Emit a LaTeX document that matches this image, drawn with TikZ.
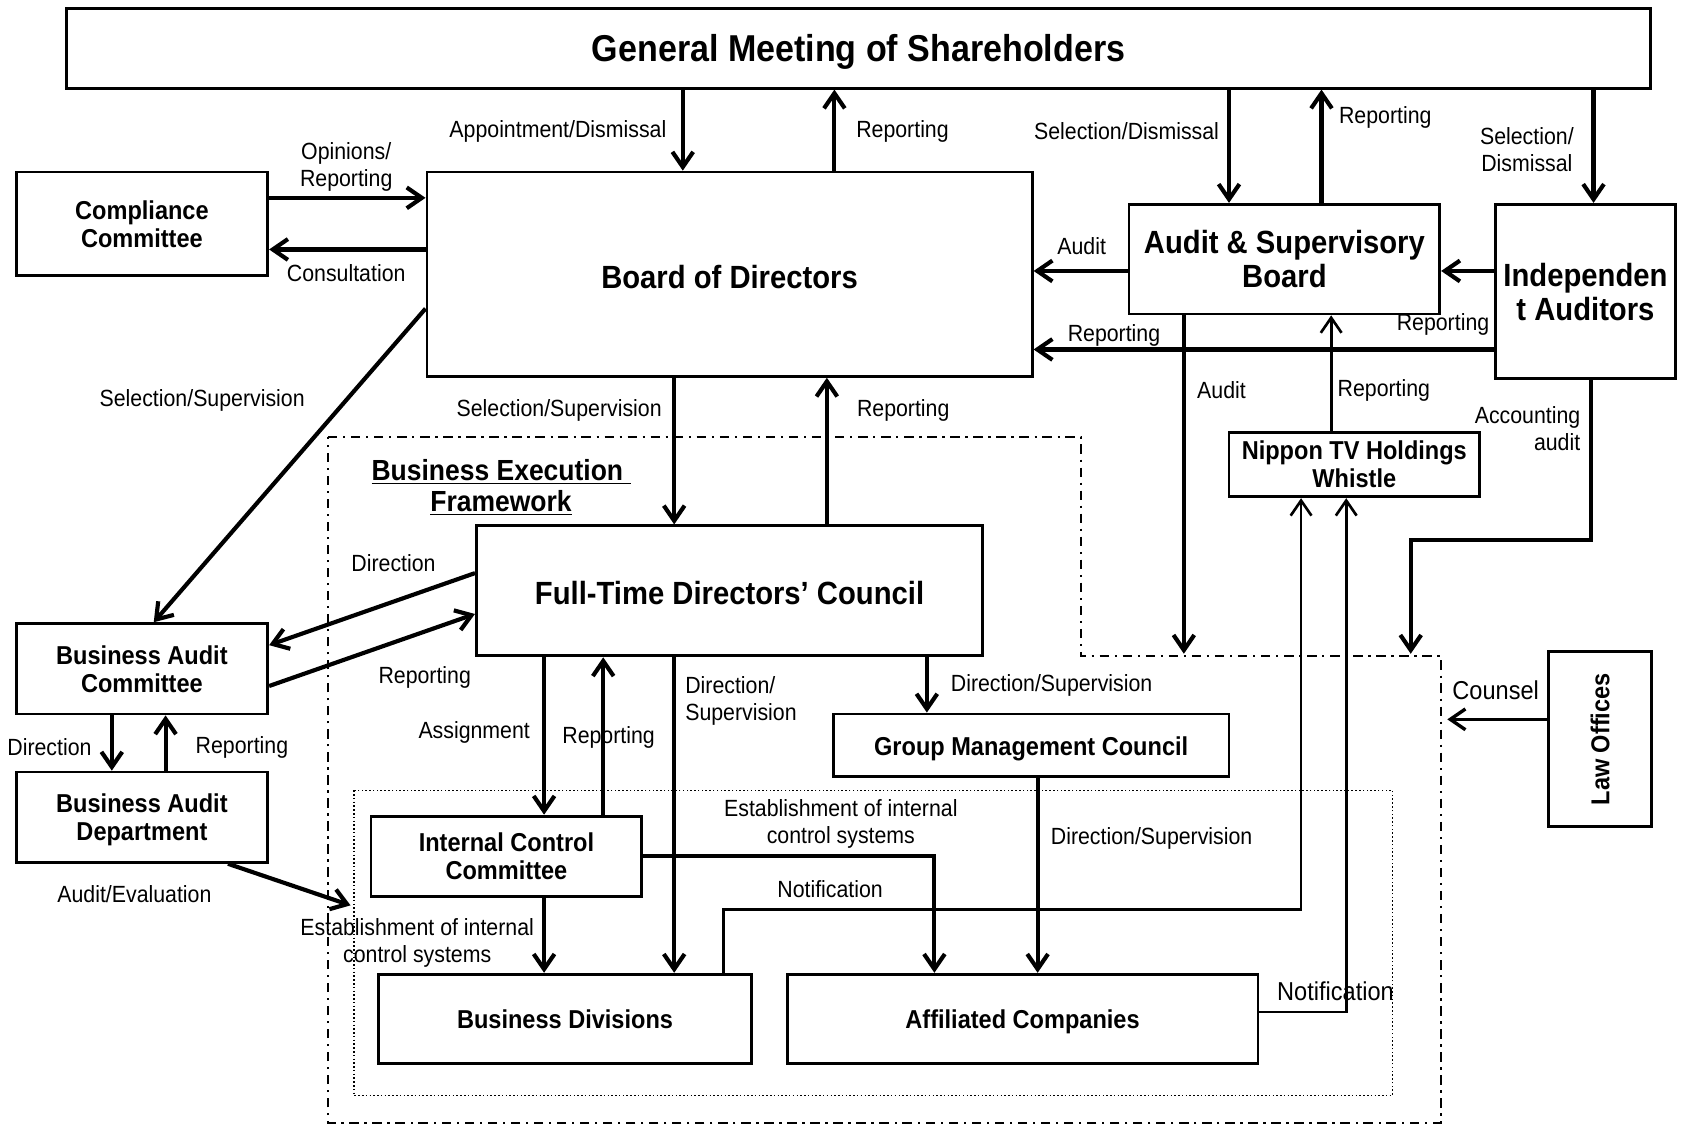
\documentclass[tikz,border=0pt]{standalone}
\usepackage{fontspec}
\usepackage{graphicx}
\setmainfont[FakeStretch=0.91]{Liberation Sans}
\usetikzlibrary{arrows.meta,calc}
\begin{document}
\begin{tikzpicture}[x=0.02cm,y=-0.02cm,
  box/.style={draw, line width=1.5pt, inner sep=2pt, align=center},
  big/.style={font=\fontsize{17}{18}\selectfont\bfseries},
  small/.style={font=\fontsize{13.7}{14.8}\selectfont\bfseries},
  lbl/.style={font=\fontsize{12.4}{14.2}\selectfont, inner sep=0pt, align=center},
  lblbig/.style={font=\fontsize{13.7}{15}\selectfont, inner sep=0pt, align=center},
  arr/.style={line width=2.2pt, -{Straight Barb[length=8pt,width=11pt]}},
  thinarr/.style={line width=1.4pt, -{Straight Barb[length=8pt,width=11pt]}},
  medarr/.style={line width=1.8pt, -{Straight Barb[length=8pt,width=11pt]}},
  dashdotline/.style={line width=1.1pt, dash pattern=on 5pt off 3pt on 1.2pt off 3pt},
  dotline/.style={line width=0.8pt, dash pattern=on 0.8pt off 1.2pt}
]
\useasboundingbox (0,0) rectangle (1568,1048);

% regions
\draw[dashdotline] (305,406) -- (1005,406) -- (1005,610) -- (1340,610) -- (1340,1044) -- (305,1044) -- cycle;
\draw[dotline] (329,735) rectangle (1295,1019);

% nodes
\node[box, minimum width=29.46cm, minimum height=1.48cm, font=\fontsize{19.8}{21}\selectfont\bfseries, text height=18.4pt] (gm) at (798.5,45) {General Meeting of Shareholders};
\node[box,big, minimum width=11.26cm, minimum height=3.8cm, text height=15.6pt] (bod) at (678.5,255) {Board of Directors};
\node[box,small, minimum width=4.68cm, minimum height=1.92cm, text depth=-2.3pt] (cc) at (132,208) {Compliance\\Committee};
\node[box,big, minimum width=5.78cm, minimum height=2.04cm, text depth=-2.3pt] (asb) at (1194.5,241) {Audit \& Supervisory\\Board};
\node[box,big, minimum width=3.34cm, minimum height=3.24cm, text depth=-2.3pt] (ia) at (1474.5,271) {Independen\\t Auditors};
\node[box,small, minimum width=4.66cm, minimum height=1.2cm, text depth=-2.8pt] (ntv) at (1259.5,432) {Nippon TV Holdings\\Whistle};
\node[box,big, minimum width=9.42cm, minimum height=2.42cm, text height=14.8pt] (ftdc) at (678.5,549.5) {Full-Time Directors’ Council};
\node[box,small, minimum width=4.68cm, minimum height=1.68cm, text depth=-1.1pt] (bac) at (132,622) {Business Audit\\Committee};
\node[box,small, minimum width=4.68cm, minimum height=1.68cm, text depth=-1.7pt] (bad) at (132,760) {Business Audit\\Department};
\node[box,small, minimum width=7.36cm, minimum height=1.16cm, text height=13.8pt] (gmc) at (959,693) {Group Management Council};
\node[box,small, minimum width=5.04cm, minimum height=1.5cm, text depth=-1.1pt] (icc) at (471,796.5) {Internal Control\\Committee};
\node[box,small, minimum width=6.94cm, minimum height=1.66cm] (bd) at (525.5,947.5) {Business Divisions};
\node[box,small, minimum width=8.76cm, minimum height=1.66cm, text height=13.2pt] (ac) at (951,947.5) {Affiliated Companies};
\node[box,small, minimum width=1.92cm, minimum height=3.26cm] (lo) at (1488,687.5) {\rotatebox{90}{Law Offices}};

\node[font=\fontsize{15.4}{16.5}\selectfont\bfseries, align=center, inner sep=0pt] (bef) at (466,453) {\underline{Business Execution~}\\\underline{Framework}};

% free ends on regions
\coordinate (r1) at (1101,608);
\coordinate (r2) at (1312,608);
\coordinate (r3) at (1346,669);
\coordinate (r4) at (326,842);

% connectors
\draw[arr] (635,0 |- gm.south) -- (635,0 |- bod.north);
\draw[arr] (776,0 |- bod.north) -- (776,0 |- gm.south);
\draw[arr] (1143,0 |- gm.south) -- (1143,0 |- asb.north);
\draw[arr] (1229,0 |- asb.north) -- (1229,0 |- gm.south);
\draw[arr] (1482,0 |- gm.south) -- (1482,0 |- ia.north);
\draw[arr] (cc.east |- 0,184) -- (bod.west |- 0,184);
\draw[arr] (bod.west |- 0,232) -- (cc.east |- 0,232);
\draw[arr] (asb.west |- 0,252) -- (bod.east |- 0,252);
\draw[arr] (ia.west |- 0,252) -- (asb.east |- 0,252);
\draw[arr] (ia.west |- 0,325) -- (bod.east |- 0,325);
\draw[arr] (1101,0 |- asb.south) -- (r1);
\draw[thinarr] (1238,0 |- ntv.north) -- (1238,0 |- asb.south);
\draw[arr] (1480,0 |- ia.south) -- (1480,502) -- (1312,502) -- (r2);
\draw[arr] (627,0 |- bod.south) -- (627,0 |- ftdc.north);
\draw[arr] (769,0 |- ftdc.north) -- (769,0 |- bod.south);
\draw[arr] (bod.west |- 0,287) -- (143,0 |- bac.north);
\draw[arr] (ftdc.west |- 0,533) -- (bac.east |- 0,600);
\draw[arr] (bac.east |- 0,638) -- (ftdc.west |- 0,571);
\draw[arr] (104,0 |- bac.south) -- (104,0 |- bad.north);
\draw[arr] (154,0 |- bad.north) -- (154,0 |- bac.south);
\draw[arr] (212,0 |- bad.south) -- (r4);
\draw[arr] (506,0 |- ftdc.south) -- (506,0 |- icc.north);
\draw[arr] (561,0 |- icc.north) -- (561,0 |- ftdc.south);
\draw[arr] (627,0 |- ftdc.south) -- (627,0 |- bd.north);
\draw[arr] (862,0 |- ftdc.south) -- (862,0 |- gmc.north);
\draw[arr] (965,0 |- gmc.south) -- (965,0 |- ac.north);
\draw[arr] (506,0 |- icc.south) -- (506,0 |- bd.north);
\draw[arr] (icc.east |- 0,796) -- (869,796) -- (869,0 |- ac.north);
\draw[thinarr] (673,0 |- bd.north) -- (673,846) -- (1210,846) -- (1210,0 |- ntv.south);
\draw[thinarr] (ac.east |- 0,941) -- (1252,941) -- (1252,0 |- ntv.south);
\draw[medarr] (lo.west |- 0,669) -- (r3);

% labels
\node[lbl, anchor=east] (l1) at (620,122) {Appointment/Dismissal};
\node[lbl, anchor=west] (l2) at (796,122) {Reporting};
\node[lbl, anchor=east] (l3) at (1134,122) {Selection/Dismissal};
\node[lbl, anchor=west] (l4) at (1245,109) {Reporting};
\node[lbl] (l5) at (1420,139) {Selection/\\Dismissal};
\node[lbl] (l6) at (322,155) {Opinions/\\Reporting};
\node[lbl] (l7) at (322,254) {Consultation};
\node[lbl] (l8) at (1006,229) {Audit};
\node[lbl] (l9) at (1036,312) {Reporting};
\node[lbl] (l10) at (1342,302) {Reporting};
\node[lbl] (l11) at (1136,363) {Audit};
\node[lbl] (l12) at (1287,363) {Reporting};
\node[lbl, anchor=east, align=right] (l13) at (1470,399) {Accounting\\audit};
\node[lbl] (l14) at (520,382) {Selection/Supervision};
\node[lbl] (l15) at (840,382) {Reporting};
\node[lbl] (l16) at (188,372) {Selection/Supervision};
\node[lbl] (l17) at (366,524) {Direction};
\node[lbl] (l18) at (395,630) {Reporting};
\node[lbl] (l19) at (46,695) {Direction};
\node[lbl] (l20) at (225,695) {Reporting};
\node[lbl] (l21) at (125,832) {Audit/Evaluation};
\node[lbl] (l22) at (441,681) {Assignment};
\node[lbl] (l23) at (566,686) {Reporting};
\node[lbl, anchor=west, align=left] (l24) at (637,652) {Direction/\\Supervision};
\node[lbl, anchor=west] (l25) at (884,637) {Direction/Supervision};
\node[lbl, anchor=west] (l26) at (977,780) {Direction/Supervision};
\node[lbl] (l27) at (388,877) {Establishment of internal\\control systems};
\node[lbl] (l28) at (782,766) {Establishment of internal\\control systems};
\node[lbl] (l29) at (772,827) {Notification};
\node[lblbig] (l30) at (1242,922) {Notification};
\node[lblbig] (l31) at (1391,642) {Counsel};
\end{tikzpicture}
\end{document}
